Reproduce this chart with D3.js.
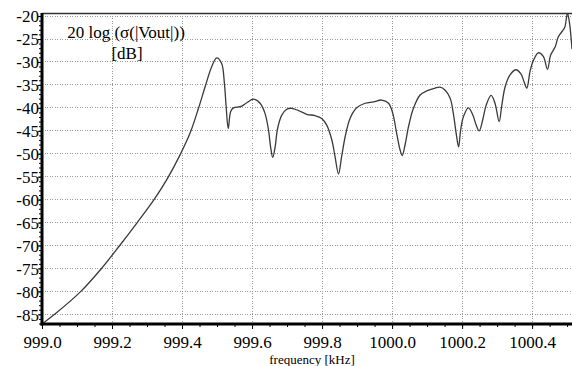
<!DOCTYPE html>
<html>
<head>
<meta charset="utf-8">
<script src="https://cdn.jsdelivr.net/npm/d3@7"></script>
<style>
html,body{margin:0;padding:0;background:#fff;}
svg{display:block;}
svg text{font-family:'Liberation Serif','Times New Roman',Times,serif;}
</style>
</head>
<body>
<svg id="chart" width="572" height="366"></svg>
<script>
// ---- data ----
const freqKHz = [
  999.000, 999.036, 999.111, 999.170, 999.222, 999.272, 999.320, 999.356, 999.394, 999.423,
  999.447, 999.466, 999.485, 999.499, 999.513, 999.521, 999.526, 999.532, 999.539, 999.547,
  999.569, 999.585, 999.604, 999.623, 999.637, 999.647, 999.653, 999.659, 999.666, 999.673,
  999.685, 999.699, 999.713, 999.733, 999.756, 999.780, 999.799, 999.813, 999.828, 999.837,
  999.847, 999.856, 999.866, 999.880, 999.899, 999.923, 999.947, 999.970, 999.990, 1000.002,
  1000.013, 1000.023, 1000.029, 1000.037, 1000.047, 1000.061, 1000.080, 1000.099, 1000.123, 1000.137,
  1000.151, 1000.166, 1000.175, 1000.183, 1000.190, 1000.196, 1000.204, 1000.218, 1000.231, 1000.240,
  1000.249, 1000.259, 1000.269, 1000.283, 1000.294, 1000.306, 1000.313, 1000.323, 1000.337, 1000.354,
  1000.368, 1000.377, 1000.385, 1000.394, 1000.404, 1000.418, 1000.432, 1000.444, 1000.453, 1000.466,
  1000.475, 1000.490, 1000.494, 1000.501, 1000.507, 1000.514
];
const levelDB = [
  -87.1, -85.0, -80.0, -75.0, -70.0, -65.0, -60.0, -55.7, -50.3, -45.5,
  -40.1, -35.4, -31.0, -29.1, -30.3, -34.6, -39.7, -44.5, -40.8, -40.0,
  -39.7, -38.9, -38.1, -39.0, -41.2, -44.8, -48.5, -50.8, -48.5, -44.5,
  -41.6, -40.3, -40.1, -40.6, -41.4, -41.7, -42.3, -43.7, -47.0, -50.6,
  -54.4, -50.6, -46.3, -42.3, -40.0, -39.0, -38.7, -38.3, -39.0, -41.2,
  -45.5, -49.2, -50.4, -48.1, -44.1, -40.1, -37.2, -36.3, -35.7, -35.5,
  -36.1, -37.9, -41.2, -45.5, -48.5, -44.8, -41.9, -40.0, -41.6, -43.7,
  -45.0, -42.6, -39.4, -37.3, -39.0, -43.0, -39.7, -35.4, -32.8, -31.7,
  -32.6, -34.3, -35.7, -32.1, -29.6, -28.0, -28.8, -31.6, -28.5, -26.7,
  -24.5, -22.9, -22.3, -19.4, -21.6, -27.2
];
const xTickValues = [999.0, 999.2, 999.4, 999.6, 999.8, 1000.0, 1000.2, 1000.4];
const xTickLabels = ["999.0", "999.2", "999.4", "999.6", "999.8", "1000.0", "1000.2", "1000.4"];
const yTickValues = [-20, -25, -30, -35, -40, -45, -50, -55, -60, -65, -70, -75, -80, -85];
const yTickLabels = ["-20", "-25", "-30", "-35", "-40", "-45", "-50", "-55", "-60", "-65", "-70", "-75", "-80", "-85"];
const yAxisTitle = ["20 log (\u03c3(|Vout|))", "[dB]"];
const xAxisTitle = "frequency [kHz]";

// ---- layout ----
const L = 42, R = 572, T = 13, B = 324;
const serif = "'Liberation Serif','Times New Roman',Times,serif";

const svg = d3.select("#chart");
svg.append("rect").attr("width", 572).attr("height", 366).attr("fill", "#fff");

const x = d3.scaleLinear().domain([999.0, 1000.514]).range([L, R]);
const y = d3.scaleLinear().domain([-87.11, -19.33]).range([B, T]);

// grid
const grid = svg.append("g");
grid.selectAll("line.gx").data(xTickValues.filter(v => v > 999.0)).join("line")
  .attr("x1", d => x(d)).attr("x2", d => x(d)).attr("y1", T).attr("y2", B)
  .attr("stroke", "#9a9a9a").attr("stroke-width", 1).attr("stroke-dasharray", "1,1.5")
  .attr("shape-rendering", "crispEdges");
grid.selectAll("line.gy").data(yTickValues).join("line")
  .attr("x1", L).attr("x2", R).attr("y1", d => y(d)).attr("y2", d => y(d))
  .attr("stroke", "#9a9a9a").attr("stroke-width", 1).attr("stroke-dasharray", "1,1.5")
  .attr("shape-rendering", "crispEdges");

// top border
svg.append("line").attr("x1", L).attr("x2", R).attr("y1", T + 0.5).attr("y2", T + 0.5)
  .attr("stroke", "#333").attr("stroke-width", 1.4);

// curve
svg.append("clipPath").attr("id", "clip").append("rect")
  .attr("x", L).attr("y", T).attr("width", R - L).attr("height", B - T);
const pts = freqKHz.map((f, i) => [f, levelDB[i]]);
const line = d3.line().x(d => x(d[0])).y(d => y(d[1])).curve(d3.curveCatmullRom.alpha(0.5));
svg.append("path").attr("d", line(pts)).attr("clip-path", "url(#clip)")
  .attr("fill", "none").attr("stroke", "#3a3a3a").attr("stroke-width", 1.3)
  .attr("stroke-linejoin", "round");

// x axis
const xMinor = d3.range(0, 31).map(i => 999.0 + i * 0.05).filter(v => v <= 1000.514);
const xAxisMinor = d3.axisBottom(x).tickValues(xMinor).tickSize(3).tickFormat("");
const gxm = svg.append("g").attr("transform", `translate(0,${B})`).call(xAxisMinor);
gxm.select(".domain").remove();
gxm.selectAll("line").attr("stroke", "#000");
const xAxis = d3.axisBottom(x).tickValues(xTickValues).tickSize(5)
  .tickFormat((d, i) => xTickLabels[i]).tickPadding(6);
const gx = svg.append("g").attr("transform", `translate(0,${B})`).call(xAxis)
  .attr("font-family", serif).attr("font-size", 17);
gx.select(".domain").remove();
gx.selectAll("line").attr("stroke", "#000");
gx.selectAll("text").style("font-family", serif).style("font-size", "17px").attr("fill", "#000")
  .attr("dy", null).attr("y", 23.5);

// y axis
const yMinor = d3.range(-87, -19).filter(v => v >= -87.11 && v <= -19.33);
const yAxisMinor = d3.axisLeft(y).tickValues(yMinor).tickSize(3).tickFormat("");
const gym = svg.append("g").attr("transform", `translate(${L},0)`).call(yAxisMinor);
gym.select(".domain").remove();
gym.selectAll("line").attr("stroke", "#000");
const yAxis = d3.axisLeft(y).tickValues(yTickValues).tickSize(4)
  .tickFormat((d, i) => yTickLabels[i]).tickPadding(0);
const gy = svg.append("g").attr("transform", `translate(${L},0)`).call(yAxis)
  .attr("font-family", serif).attr("font-size", 17);
gy.select(".domain").remove();
gy.selectAll("line").attr("stroke", "#000");
gy.selectAll("text").style("font-family", serif).style("font-size", "17px").attr("fill", "#000")
  .attr("x", -3).attr("dy", "0.34em");

// axis lines (thick)
svg.append("line").attr("x1", L).attr("x2", L).attr("y1", T).attr("y2", B + 1.5)
  .attr("stroke", "#000").attr("stroke-width", 3);
svg.append("line").attr("x1", L - 1.5).attr("x2", R).attr("y1", B).attr("y2", B)
  .attr("stroke", "#000").attr("stroke-width", 3);

// titles
svg.append("text").attr("x", 126).attr("y", 37.5).attr("text-anchor", "middle")
  .style("font-family", serif).style("font-size", "17px").attr("fill", "#000").text(yAxisTitle[0]);
svg.append("text").attr("x", 127).attr("y", 58.5).attr("text-anchor", "middle")
  .style("font-family", serif).style("font-size", "17px").attr("fill", "#000").text(yAxisTitle[1]);
svg.append("text").attr("x", 312).attr("y", 363.5).attr("text-anchor", "middle")
  .style("font-family", serif).style("font-size", "13px").attr("fill", "#000").text(xAxisTitle);
</script>
</body>
</html>
